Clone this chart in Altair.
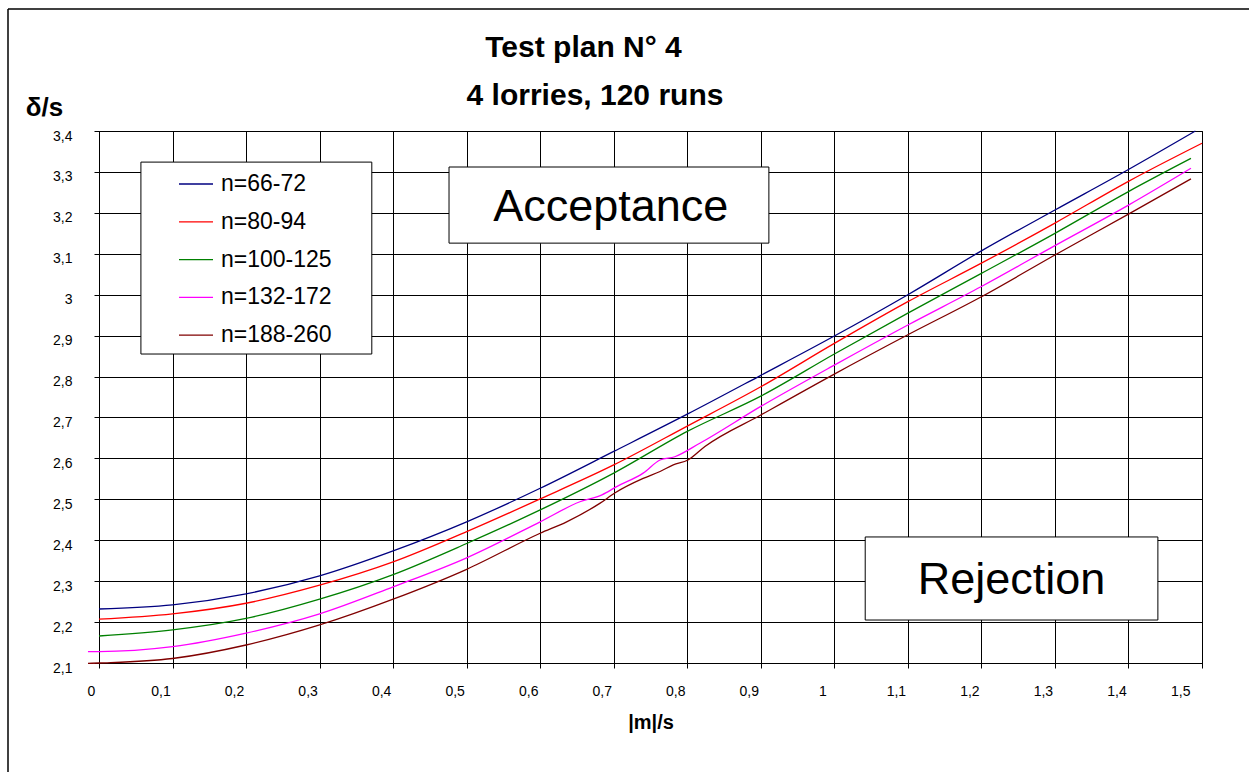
import altair as alt
import pandas as pd

FONT = "Liberation Sans"

series_names = ["n=66-72", "n=80-94", "n=100-125", "n=132-172", "n=188-260"]
series_colors = ["#000080", "#FF0000", "#008000", "#FF00FF", "#800000"]

# x positions read at the vertical gridlines (axis starts at 0.015)
gx = [0.015, 0.115, 0.215, 0.315, 0.415, 0.515, 0.615, 0.715, 0.815,
      0.915, 1.015, 1.115, 1.215, 1.315, 1.415]

x_blue = gx + [1.506]
y_blue = [2.232, 2.242, 2.269, 2.313, 2.374, 2.445, 2.527, 2.617, 2.708,
          2.803, 2.899, 3.000, 3.107, 3.207, 3.306, 3.400]

x_red = gx + [1.515]
y_red = [2.207, 2.220, 2.246, 2.290, 2.347, 2.421, 2.501, 2.584, 2.679,
         2.775, 2.881, 2.983, 3.077, 3.175, 3.277, 3.370]

x_green = gx + [1.5]
y_green = [2.166, 2.181, 2.209, 2.256, 2.316, 2.392, 2.474, 2.564, 2.666,
           2.752, 2.855, 2.955, 3.052, 3.150, 3.252, 3.333]

x_pink = [0.0, 0.015, 0.115, 0.215, 0.315, 0.415, 0.515, 0.615, 0.669, 0.699,
          0.719, 0.755, 0.778, 0.798, 0.832, 0.915, 1.015, 1.115, 1.215,
          1.315, 1.415, 1.5]
y_pink = [2.128, 2.128, 2.140, 2.173, 2.220, 2.286, 2.357, 2.445, 2.494, 2.511,
          2.531, 2.564, 2.596, 2.604, 2.637, 2.727, 2.828, 2.926, 3.020,
          3.120, 3.219, 3.309]

x_brown = [0.0, 0.015, 0.115, 0.215, 0.315, 0.415, 0.515, 0.615, 0.651, 0.696,
           0.717, 0.755, 0.778, 0.796, 0.816, 0.839, 0.915, 1.015, 1.115,
           1.215, 1.315, 1.415, 1.5]
y_brown = [2.099, 2.100, 2.111, 2.144, 2.193, 2.256, 2.329, 2.417, 2.445, 2.490,
           2.516, 2.551, 2.568, 2.584, 2.596, 2.629, 2.706, 2.806, 2.902,
           2.995, 3.097, 3.197, 3.283]

x_ticks = [round(0.015 + 0.1 * k, 3) for k in range(16)]
y_ticks = [round(2.1 + 0.1 * k, 1) for k in range(14)]

rows = []
for name, xs, ys in zip(series_names,
                        [x_blue, x_red, x_green, x_pink, x_brown],
                        [y_blue, y_red, y_green, y_pink, y_brown]):
    for a, b in zip(xs, ys):
        rows.append({"series": name, "x": a, "v": b})
df = pd.DataFrame(rows)

# annotation boxes (data coordinates)
boxes = pd.DataFrame({
    "x1": [0.491, 1.057, 0.072],
    "x2": [0.926, 1.455, 0.386],
    "y1": [3.312, 2.408, 3.324],
    "y2": [3.126, 2.205, 2.855],
})
labels = pd.DataFrame({
    "x": [0.711, 1.256],
    "y": [3.215, 2.303],
    "t": ["Acceptance", "Rejection"],
})

xscale = alt.Scale(domain=[0.015, 1.515], nice=False, zero=False)
yscale = alt.Scale(domain=[2.1, 3.4], nice=False, zero=False)

lines = alt.Chart(df).mark_line(strokeWidth=1.3, interpolate="monotone", clip=False).encode(
    x=alt.X("x:Q", scale=xscale, axis=alt.Axis(
        values=x_ticks,
        labelExpr="replace(toString(round((datum.value-0.015)*10)/10), '.', ',')",
        labelOffset=-12, labelPadding=16, tickSize=5, tickColor="black",
        domainColor="black", gridColor="black", gridWidth=1,
        labelFont=FONT, labelFontSize=14, labelColor="black",
        title="|m|/s", titleFont=FONT, titleFontSize=20, titleFontWeight="bold",
        titleColor="black", titleY=59, titleBaseline="middle")),
    y=alt.Y("v:Q", scale=yscale, axis=alt.Axis(
        values=y_ticks,
        labelExpr="replace(toString(datum.value), '.', ',')",
        labelPadding=22, labelOffset=5, tickSize=5, tickColor="black",
        domainColor="black", gridColor="black", gridWidth=1,
        labelFont=FONT, labelFontSize=14, labelColor="black",
        title="δ/s", titleAngle=0, titleX=-55, titleY=-24, titleAlign="center",
        titleBaseline="middle", titleFont=FONT, titleFontSize=26,
        titleFontWeight="bold", titleColor="black")),
    color=alt.Color("series:N", scale=alt.Scale(domain=series_names, range=series_colors),
                    legend=alt.Legend(orient="none", legendX=79, legendY=35, padding=0,
                                      title=None, symbolType="stroke", symbolSize=1156,
                                      symbolStrokeWidth=1.3, labelFont=FONT,
                                      labelFontSize=23, labelColor="black",
                                      labelOffset=7, rowPadding=7.8)),
    detail="series:N",
)

rects = alt.Chart(boxes).mark_rect(fill="white", stroke="black", strokeWidth=1).encode(
    x=alt.X("x1:Q", scale=xscale), x2="x2:Q",
    y=alt.Y("y1:Q", scale=yscale), y2="y2:Q",
)

texts = alt.Chart(labels).mark_text(font=FONT, fontSize=45, color="black",
                                    align="center", baseline="middle").encode(
    x=alt.X("x:Q", scale=xscale), y=alt.Y("y:Q", scale=yscale), text="t:N",
)

one = pd.DataFrame({"a": [0]})
title1 = alt.Chart(one).mark_text(text="Test plan N° 4", font=FONT, fontSize=30,
                                  fontWeight="bold", color="black", align="center",
                                  baseline="middle").encode(x=alt.value(484.5), y=alt.value(-83))
title2 = alt.Chart(one).mark_text(text="4 lorries, 120 runs", font=FONT, fontSize=30,
                                  fontWeight="bold", color="black", align="center",
                                  baseline="middle").encode(x=alt.value(496), y=alt.value(-35))
frame_left = alt.Chart(one).mark_rule(color="black", strokeWidth=1.5).encode(
    x=alt.value(-91), y=alt.value(-122), y2=alt.value(645))
frame_top = alt.Chart(one).mark_rule(color="black", strokeWidth=1.5).encode(
    x=alt.value(-91), x2=alt.value(1150), y=alt.value(-122))

chart = alt.layer(lines, rects, texts, title1, title2, frame_left, frame_top).properties(
    width=1103, height=532,
    autosize=alt.AutoSizeParams(type="none"),
    padding={"left": 99, "top": 131, "right": 47, "bottom": 109},
    background="white",
).configure_view(stroke="black", strokeWidth=1)

chart.save("out.html", embed_options={"renderer": "svg", "actions": False})
